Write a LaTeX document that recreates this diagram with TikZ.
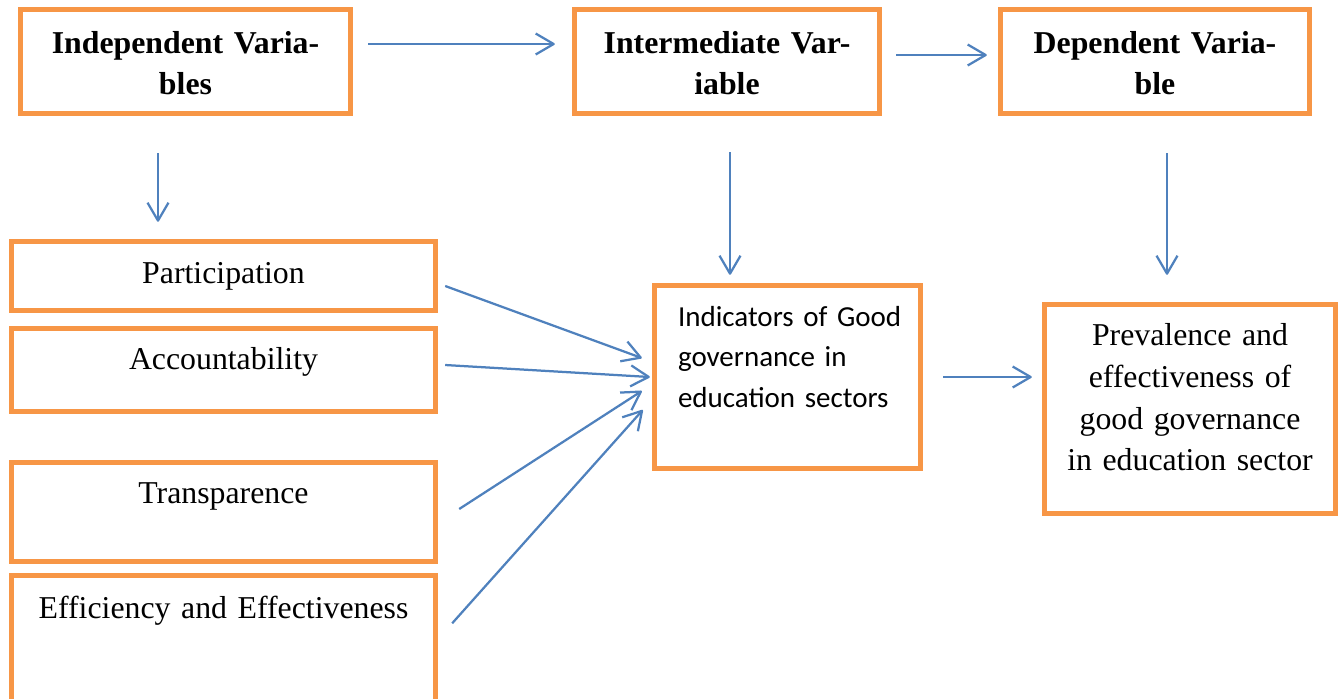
\documentclass[tikz,border=0pt]{standalone}
\usepackage{fontspec}
\setmainfont{Liberation Serif}
\newfontfamily\calibrifont{Carlito}
\usepackage{xcolor}
\usepackage{tikz}
\usetikzlibrary{arrows.meta,positioning}
\definecolor{boxorange}{RGB}{247, 150, 70}
\definecolor{flowblue}{RGB}{79, 129, 189}
\newcommand{\bodysize}{\fontsize{18.1}{23.8}\selectfont}

\begin{document}
\begin{tikzpicture}[x=0.02cm, y=-0.02cm,
    every node/.style={font=\bodysize},
    varbox/.style={draw=boxorange, line width=0.11cm, inner sep=0pt, align=center},
    headbox/.style={varbox, font=\bodysize\bfseries, text height=0.87cm, text depth=1.21cm},
    flow/.style={draw=flowblue, line width=0.045cm, -{Straight Barb[length=0.36cm, width=0.42cm, line join=round]}}]
    \useasboundingbox (0,0) rectangle (1340,698);
    \clip (0,0) rectangle (1340,698);

    \node[headbox, text width=6.6cm] (ind) at (185.5,61.5) {Independent Varia-\\bles};
    \node[headbox, text width=6.1cm] (inter) at (727,61.5) {Intermediate Var-\\iable};
    \node[headbox, text width=6.18cm] (dep) at (1155,61.5) {Dependent Varia-\\ble};

    \node[varbox, text width=8.48cm, text height=0.83cm, text depth=0.55cm] (part) at (223.5,276) {Participation};
    \node[varbox, text width=8.48cm, text height=0.81cm, text depth=0.85cm] (acc) at (223.5,370) {Accountability};
    \node[varbox, text width=8.48cm, text height=0.81cm, text depth=1.17cm] (trans) at (223.5,512) {Transparence};
    \node[varbox, text width=8.48cm, text height=0.85cm, text depth=2.44cm] (eff) at (223.5,657.75) {Efficiency and Effectiveness};

    \node[varbox, align=left, inner xsep=0.47cm, text width=4.38cm, text height=0.81cm, text depth=2.85cm,
        font=\calibrifont\fontsize{16.5}{23.3}\selectfont] (indic) at (787.5,377)
        {Indicators~of~Good\\governance~in\\education~sectors};
    \node[varbox, text width=5.82cm, text height=0.82cm, text depth=3.36cm] (prev) at (1190,409)
        {Prevalence and\\effectiveness of\\good governance\\in education sector};

    \draw[flow, shorten <=0.3cm, shorten >=0.34cm] ([yshift=0.35cm]ind.east) -- ([yshift=0.35cm]ind.east -| inter.west);
    \draw[flow, shorten <=0.28cm, shorten >=0.22cm] ([yshift=0.13cm]inter.east) -- ([yshift=0.13cm]inter.east -| dep.west);

    \draw[flow, shorten <=0.74cm, shorten >=0.34cm] ([xshift=-0.55cm]ind.south) -- ([xshift=-0.55cm]ind.south |- part.north);
    \draw[flow, shorten <=0.72cm, shorten >=0.16cm] ([xshift=0.06cm]inter.south) -- ([xshift=0.06cm]inter.south |- indic.north);
    \draw[flow, shorten <=0.74cm, shorten >=0.54cm] ([xshift=0.24cm]dep.south) -- ([xshift=0.24cm]dep.south |- prev.north);

    \draw[flow] ([xshift=0.14cm, yshift=-0.2cm]part.east) -- ([xshift=-0.2cm, yshift=0.38cm]indic.west);
    \draw[flow] ([xshift=0.14cm, yshift=0.1cm]acc.east) -- ([xshift=-0.04cm]indic.west);
    \draw[flow] ([xshift=0.42cm, yshift=0.06cm]trans.east) -- ([xshift=-0.2cm, yshift=-0.28cm]indic.west);
    \draw[flow] ([xshift=0.28cm, yshift=0.69cm]eff.east) -- ([xshift=-0.18cm, yshift=-0.66cm]indic.west);

    \draw[flow, shorten <=0.4cm, shorten >=0.2cm] (indic.east) -- (indic.east -| prev.west);
\end{tikzpicture}
\end{document}
